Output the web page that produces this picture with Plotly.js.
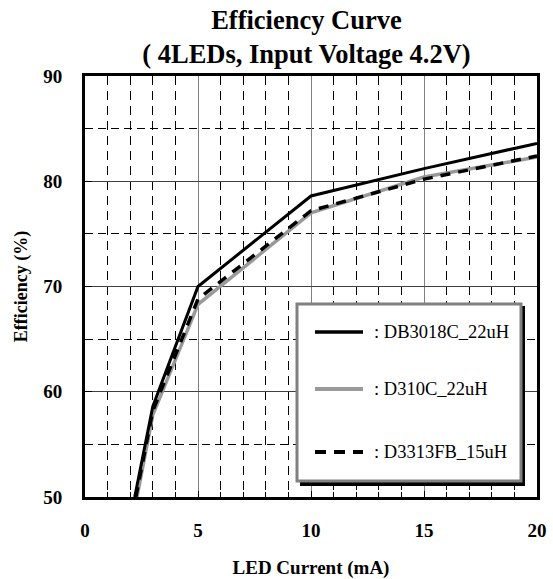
<!DOCTYPE html>
<html>
<head>
<meta charset="utf-8">
<script src="https://cdn.plot.ly/plotly-3.0.1.min.js"></script>
<style>html,body{margin:0;padding:0;background:#fff;}#chart{width:553px;height:579px;}</style>
</head>
<body>
<div id="chart"></div>
<script>
// ---- data ----
const seriesNames = ["DB3018C_22uH", "D310C_22uH", "D3313FB_15uH"];
const currentDB3018C = [2.2, 3, 5, 10, 15, 20];
const effDB3018C     = [50, 58.6, 70.0, 78.6, 81.2, 83.6];
const currentD310C   = [2.3, 3, 5, 10, 15, 20];
const effD310C       = [50, 57.8, 68.3, 77.0, 80.4, 82.3];
const currentD3313FB = [2.25, 3, 5, 10, 15, 20];
const effD3313FB     = [50, 58.2, 68.8, 77.2, 80.2, 82.4];
const xTickVals = [0, 5, 10, 15, 20];
const yTickVals = [50, 60, 70, 80, 90];

const FONT = "Liberation Serif, Times New Roman, serif";
const W = 553, H = 579;
const L = 85, R = 537, T = 76, B = 497;
const px = v => (v - L) / (R - L);
const py = v => (B - v) / (B - T);

const styles = [
  {color: "#000000", width: 3, dash: "solid"},
  {color: "#999999", width: 3.5, dash: "solid"},
  {color: "#000000", width: 3.5, dash: "10px,8px"}
];

const traces = [
  {x: currentD310C, y: effD310C, name: seriesNames[1]},
  {x: currentD3313FB, y: effD3313FB, name: seriesNames[2]},
  {x: currentDB3018C, y: effDB3018C, name: seriesNames[0]}
].map(t => {
  const idx = seriesNames.indexOf(t.name);
  return Object.assign(t, {type: "scatter", mode: "lines", showlegend: false,
    line: {color: styles[idx].color, width: styles[idx].width, dash: styles[idx].dash}, cliponaxis: true});
});

// legend box (drawn manually to match reference spacing)
const shapes = [
  {type: "rect", xref: "paper", yref: "paper", x0: px(300), x1: px(525), y0: py(486), y1: py(306),
   fillcolor: "#000", line: {width: 0}, layer: "above"},
  {type: "rect", xref: "paper", yref: "paper", x0: px(297), x1: px(521), y0: py(481), y1: py(304),
   fillcolor: "#fff", line: {color: "#808080", width: 3}, layer: "above"}
];
const legendY = [332, 389, 452];
const annotations = [];
seriesNames.forEach((n, i) => {
  shapes.push({type: "line", xref: "paper", yref: "paper", x0: px(315), x1: px(363), y0: py(legendY[i]), y1: py(legendY[i]),
    line: {color: styles[i].color, width: styles[i].width + 0.5, dash: i === 2 ? "11px,8px" : "solid"}, layer: "above"});
  annotations.push({xref: "paper", yref: "paper", x: px(372), y: py(legendY[i]), xanchor: "left", yanchor: "middle",
    text: ": " + n, showarrow: false, font: {family: FONT, size: 18.5, color: "#000"}});
});

const layout = {
  width: W, height: H,
  margin: {l: L, r: W - R, t: T, b: H - B, pad: 0},
  paper_bgcolor: "#fff", plot_bgcolor: "#fff",
  font: {family: FONT, color: "#000"},
  title: {text: "Efficiency Curve<br>( 4LEDs, Input Voltage 4.2V)", font: {family: FONT, size: 26.5, weight: "bold", color: "#000"},
    x: 0.49, xref: "paper", xanchor: "center", y: 0.95, yref: "container", yanchor: "top"},
  xaxis: {range: [0, 20], tickvals: xTickVals, ticktext: xTickVals.map(String),
    showline: true, linewidth: 3, linecolor: "#000", mirror: true,
    showgrid: true, gridcolor: "#808080", gridwidth: 1,
    ticks: "inside", ticklen: 6, tickcolor: "#000", tickwidth: 1,
    minor: {dtick: 1, showgrid: true, gridcolor: "#000", griddash: "9px,6px", gridwidth: 1, ticks: "inside", ticklen: 5, tickcolor: "#000"},
    tickfont: {family: FONT, size: 19, weight: "bold"}, ticklabelstandoff: 14,
    zeroline: false,
    title: {text: "LED Current (mA)", font: {family: FONT, size: 19, weight: "bold"}, standoff: 22}},
  yaxis: {range: [50, 90], tickvals: yTickVals, ticktext: yTickVals.map(String),
    showline: true, linewidth: 3, linecolor: "#000", mirror: true,
    showgrid: true, gridcolor: "#404040", gridwidth: 1,
    ticks: "inside", ticklen: 7, tickcolor: "#000", tickwidth: 1,
    minor: {dtick: 5, showgrid: true, gridcolor: "#000", griddash: "8px,5px", gridwidth: 1, ticks: "inside", ticklen: 7, tickcolor: "#000"},
    tickfont: {family: FONT, size: 19, weight: "bold"}, ticklabelstandoff: 16,
    zeroline: false,
    title: {text: "Efficiency (%)", font: {family: FONT, size: 18, weight: "bold"}, standoff: 11}},
  shapes: shapes,
  annotations: annotations,
  showlegend: false
};

Plotly.newPlot("chart", traces, layout, {displayModeBar: false, staticPlot: true});
</script>
</body>
</html>
